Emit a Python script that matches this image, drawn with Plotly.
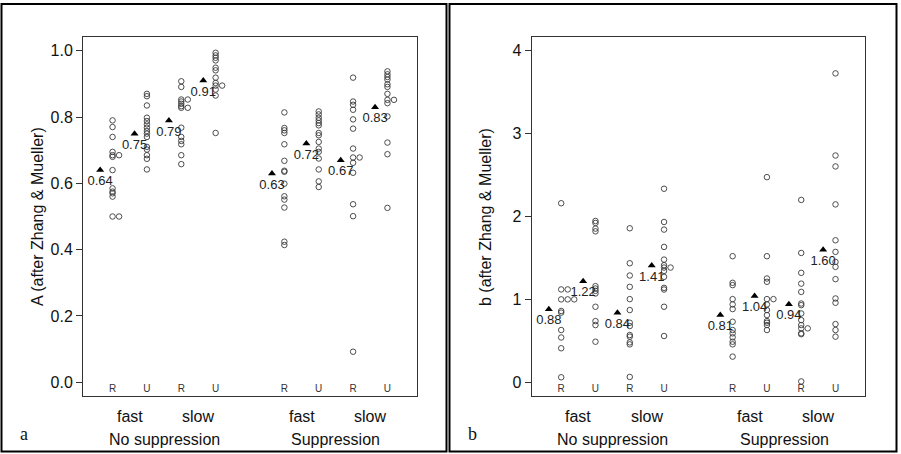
import plotly.graph_objects as go

W, H = 901, 454

# ---------------- data ----------------
positions = [1, 2, 3, 4, 6, 7, 8, 9]
group_codes = ["R", "U", "R", "U", "R", "U", "R", "U"]
speed_labels = ["fast", "slow", "fast", "slow"]
speed_pos = [1.5, 3.5, 6.5, 8.5]
cond_labels = ["No suppression", "Suppression"]
cond_pos = [2.5, 7.5]

A_ns_fast_R = [0.79, 0.77, 0.74, 0.695, 0.685, 0.685, 0.68, 0.64, 0.585, 0.575, 0.57, 0.56, 0.50, 0.50]
A_ns_fast_U = [0.870, 0.863, 0.835, 0.798, 0.788, 0.778, 0.768, 0.758, 0.750, 0.740, 0.710, 0.702, 0.685, 0.674, 0.642]
A_ns_slow_R = [0.908, 0.891, 0.853, 0.853, 0.847, 0.840, 0.833, 0.828, 0.828, 0.768, 0.740, 0.728, 0.718, 0.685, 0.658]
A_ns_slow_U = [0.994, 0.986, 0.979, 0.971, 0.949, 0.941, 0.919, 0.903, 0.895, 0.895, 0.883, 0.865, 0.752]
A_s_fast_R = [0.814, 0.767, 0.760, 0.752, 0.718, 0.668, 0.638, 0.635, 0.599, 0.561, 0.551, 0.527, 0.424, 0.414]
A_s_fast_U = [0.817, 0.808, 0.798, 0.790, 0.782, 0.775, 0.752, 0.745, 0.725, 0.705, 0.695, 0.675, 0.642, 0.606, 0.589]
A_s_slow_R = [0.919, 0.847, 0.837, 0.822, 0.793, 0.765, 0.705, 0.678, 0.678, 0.662, 0.632, 0.537, 0.501, 0.092]
A_s_slow_U = [0.938, 0.929, 0.921, 0.913, 0.899, 0.891, 0.870, 0.852, 0.852, 0.842, 0.802, 0.723, 0.688, 0.526]
A_means = [0.64, 0.75, 0.79, 0.91, 0.63, 0.72, 0.67, 0.83]

b_ns_fast_R = [2.16, 1.12, 1.12, 1.00, 1.00, 1.00, 0.86, 0.84, 0.63, 0.54, 0.41, 0.06]
b_ns_fast_U = [1.946, 1.922, 1.854, 1.821, 1.160, 1.131, 1.103, 1.071, 0.911, 0.738, 0.690, 0.489]
b_ns_slow_R = [1.858, 1.436, 1.288, 1.151, 1.003, 0.871, 0.718, 0.678, 0.570, 0.550, 0.481, 0.457, 0.064]
b_ns_slow_U = [2.335, 1.934, 1.842, 1.633, 1.480, 1.412, 1.384, 1.384, 1.344, 1.272, 1.139, 1.119, 0.911, 0.558]
b_s_fast_R = [1.521, 1.200, 1.172, 1.003, 0.939, 0.883, 0.730, 0.630, 0.590, 0.542, 0.489, 0.457, 0.309]
b_s_fast_U = [2.475, 1.521, 1.252, 1.212, 1.003, 1.003, 0.939, 0.871, 0.810, 0.738, 0.718, 0.690, 0.630]
b_s_slow_R = [2.20, 1.56, 1.32, 1.19, 1.09, 0.95, 0.93, 0.83, 0.75, 0.69, 0.65, 0.65, 0.59, 0.58, 0.01]
b_s_slow_U = [3.727, 2.736, 2.604, 2.146, 1.713, 1.573, 1.452, 1.392, 1.244, 1.011, 0.959, 0.702, 0.630, 0.550]
b_means = [0.88, 1.22, 0.84, 1.41, 0.81, 1.04, 0.94, 1.60]

A_groups = [A_ns_fast_R, A_ns_fast_U, A_ns_slow_R, A_ns_slow_U,
            A_s_fast_R, A_s_fast_U, A_s_slow_R, A_s_slow_U]
b_groups = [b_ns_fast_R, b_ns_fast_U, b_ns_slow_R, b_ns_slow_U,
            b_s_fast_R, b_s_fast_U, b_s_slow_R, b_s_slow_U]

FONT = "Liberation Sans, Arial, sans-serif"
SERIF = "Liberation Serif, Times New Roman, serif"


def stack_x(pos, vals, step=0.19):
    seen = {}
    xs = []
    for v in vals:
        k = round(v, 3)
        n = seen.get(k, 0)
        xs.append(pos + n * step)
        seen[k] = n + 1
    return xs


fig = go.Figure()

panels = [
    dict(groups=A_groups, means=A_means, xa="x", ya="y", code_y=-0.022),
    dict(groups=b_groups, means=b_means, xa="x2", ya="y2", code_y=-0.088),
]

for p in panels:
    xs, ys = [], []
    for pos, vals in zip(positions, p["groups"]):
        xs += stack_x(pos, vals)
        ys += vals
    fig.add_trace(go.Scatter(
        x=xs, y=ys, mode="markers", xaxis=p["xa"], yaxis=p["ya"],
        marker=dict(symbol="circle-open", size=5.5, color="#3a3a3a",
                    line=dict(width=0.9, color="#3a3a3a")),
        showlegend=False, hoverinfo="skip"))
    fig.add_trace(go.Scatter(
        x=[q - 0.36 for q in positions], y=p["means"], mode="markers+text",
        xaxis=p["xa"], yaxis=p["ya"],
        marker=dict(symbol="triangle-up", size=7, color="black"),
        text=["%.2f" % m for m in p["means"]], textposition="bottom center",
        textfont=dict(family=FONT, size=13, color="#222"),
        showlegend=False, hoverinfo="skip"))
    fig.add_trace(go.Scatter(
        x=positions, y=[p["code_y"]] * len(positions), mode="text",
        xaxis=p["xa"], yaxis=p["ya"], text=group_codes,
        textfont=dict(family=FONT, size=10, color="#333"),
        showlegend=False, hoverinfo="skip"))

axis_common = dict(showgrid=False, zeroline=False, showline=True, mirror=True,
                   linecolor="#333", linewidth=1)

ydom = [1 - 396 / H, 1 - 37 / H]
fig.update_layout(
    width=W, height=H, margin=dict(l=0, r=0, t=0, b=0),
    paper_bgcolor="white", plot_bgcolor="white",
    font=dict(family=FONT, size=16, color="#111"),
    xaxis=dict(domain=[83 / W, 417 / W], range=[0.14, 9.86],
               showticklabels=False, ticks="", **axis_common),
    yaxis=dict(domain=ydom, range=[-0.0416, 1.0416],
               tickvals=[0, 0.2, 0.4, 0.6, 0.8, 1.0],
               ticktext=["0.0", "0.2", "0.4", "0.6", "0.8", "1.0"],
               ticks="outside", ticklen=6, tickcolor="#333",
               tickfont=dict(size=16), **axis_common),
    xaxis2=dict(domain=[531.7 / W, 865 / W], range=[0.14, 9.86], anchor="y2",
                showticklabels=False, ticks="", **axis_common),
    yaxis2=dict(domain=ydom, range=[-0.166, 4.166], anchor="x2",
                tickvals=[0, 1, 2, 3, 4],
                ticktext=["0", "1", "2", "3", "4"],
                ticks="outside", ticklen=6, tickcolor="#333",
                tickfont=dict(size=16), **axis_common),
)

ann = []
for xa, ttl, tx, lab, lx in [("x", "A (after Zhang & Mueller)", 37, "a", 24),
                              ("x2", "b (after Zhang & Mueller)", 485, "b", 472.7)]:
    for s, sp in zip(speed_labels, speed_pos):
        ann.append(dict(x=sp, y=1 - 416 / H, xref=xa, yref="paper", text=s,
                        xanchor="center", yanchor="middle",
                        showarrow=False, font=dict(size=16)))
    for c, cp in zip(cond_labels, cond_pos):
        ann.append(dict(x=cp, y=1 - 439 / H, xref=xa, yref="paper", text=c,
                        xanchor="center", yanchor="middle",
                        showarrow=False, font=dict(size=16)))
    ann.append(dict(x=tx / W, y=1 - 217 / H, xref="paper", yref="paper", text=ttl,
                    xanchor="center", yanchor="middle",
                    textangle=-90, showarrow=False, font=dict(size=16)))
    ann.append(dict(x=lx / W, y=1 - 434 / H, xref="paper", yref="paper", text=lab,
                    xanchor="center", yanchor="middle",
                    showarrow=False, font=dict(family=SERIF, size=18)))
fig.update_layout(annotations=ann)

fig.update_layout(shapes=[
    dict(type="rect", xref="paper", yref="paper", x0=1.5 / W, x1=446.5 / W,
         y0=1 - 451.5 / H, y1=1 - 4 / H, line=dict(color="black", width=2)),
    dict(type="rect", xref="paper", yref="paper", x0=449.5 / W, x1=896.5 / W,
         y0=1 - 451.5 / H, y1=1 - 4 / H, line=dict(color="black", width=2)),
])

fig.write_html("out.html")
